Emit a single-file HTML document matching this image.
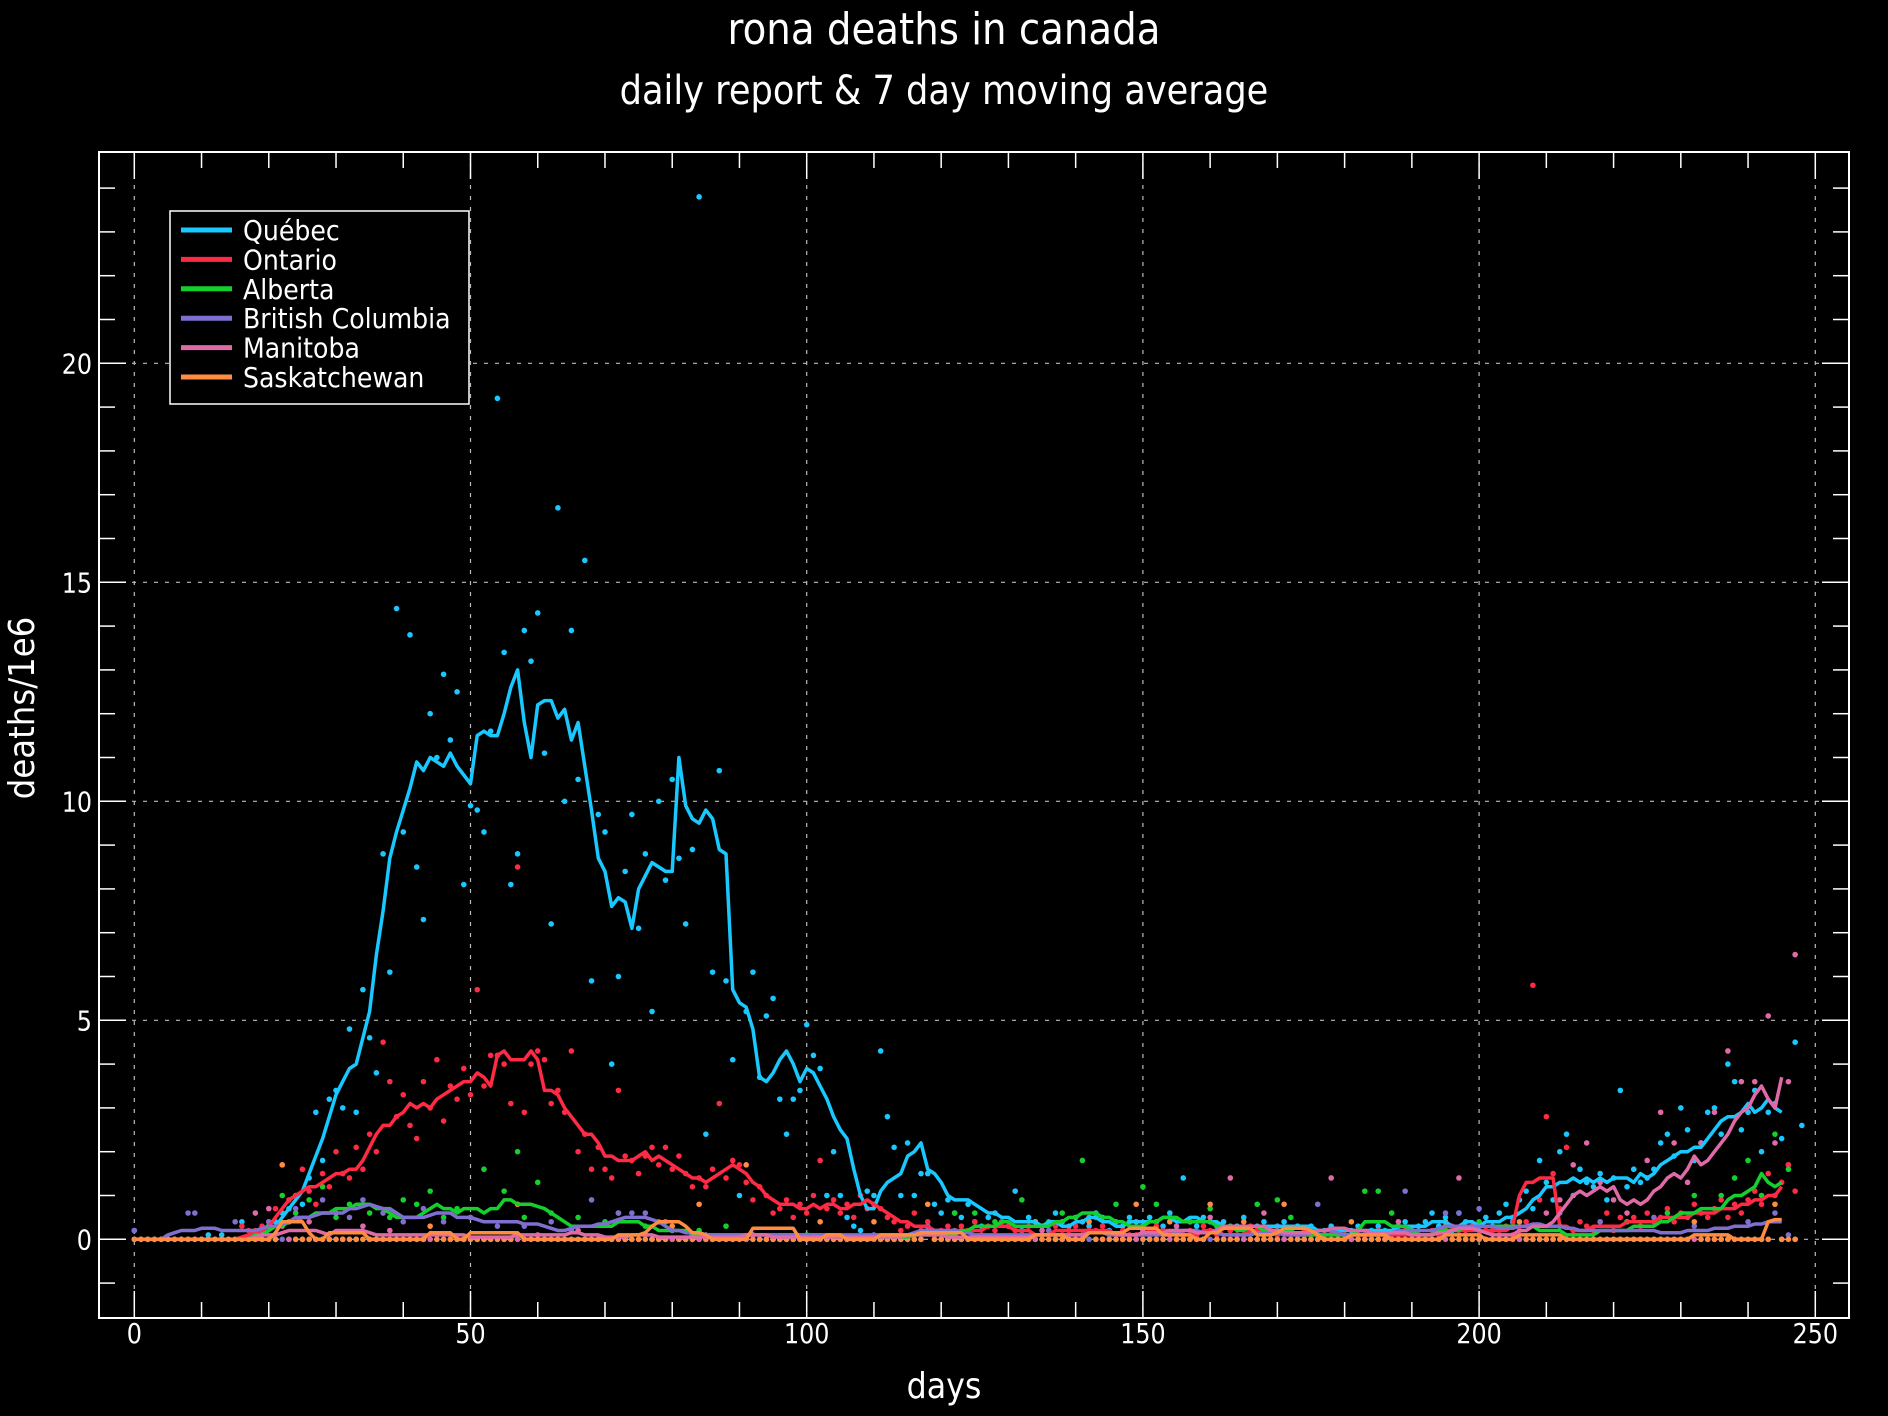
<!DOCTYPE html>
<html><head><meta charset="utf-8"><style>
html,body{margin:0;padding:0;background:#000;}
svg{display:block;font-family:"DejaVu Sans","Liberation Sans",sans-serif;}
</style></head><body>
<svg id="chart" width="1888" height="1416" viewBox="0 0 1888 1416" xmlns="http://www.w3.org/2000/svg">
<rect width="1888" height="1416" fill="#000"/>
<text class="cond" x="944" y="44" fill="#fff" font-size="44" text-anchor="middle">rona deaths in canada</text>
<text class="cond" x="944" y="104" fill="#fff" font-size="40" text-anchor="middle">daily report &amp; 7 day moving average</text>
<text transform="translate(34,708) rotate(-90) scale(0.9,1)" fill="#fff" font-size="36" text-anchor="middle">deaths/1e6</text>
<text class="cond" x="944" y="1398" fill="#fff" font-size="36" text-anchor="middle">days</text>
<g id="grid"></g>
<g id="marks"></g>
<g id="axes"></g>
<g id="legend"></g>
</svg>
<script>
const xTicks=[0,50,100,150,200,250];
const yTicks=[0,5,10,15,20];
const seriesNames=["Québec","Ontario","Alberta","British Columbia","Manitoba","Saskatchewan"];
const seriesColors=["#18c8ff","#ff2a44","#14d02c","#7f6fd0","#e06aa8","#ff8c40"];

const qcMA=[0,0,0,0,0,0,0,0,0,0,
0,0,0,0,0,0,0,0,0.05,0.1,
0.2,0.3,0.5,0.7,0.9,1.1,1.5,1.9,2.3,2.8,
3.3,3.6,3.9,4.0,4.6,5.2,6.5,7.5,8.7,9.3,
9.8,10.3,10.9,10.7,11.0,10.9,10.8,11.1,10.8,10.6,
10.4,11.5,11.6,11.5,11.5,12.0,12.6,13.0,11.8,11.0,
12.2,12.3,12.3,11.9,12.1,11.4,11.8,10.8,9.8,8.7,
8.4,7.6,7.8,7.7,7.1,8.0,8.3,8.6,8.5,8.4,
8.4,11.0,9.9,9.6,9.5,9.8,9.6,8.9,8.8,5.7,
5.4,5.3,4.8,3.7,3.6,3.8,4.1,4.3,4.0,3.6,3.9,
3.8,3.5,3.2,2.8,2.5,2.3,1.6,1.0,0.7,0.7,
1.1,1.3,1.4,1.5,1.9,2.0,2.2,1.6,1.5,1.3,
1.0,0.9,0.9,0.9,0.8,0.7,0.6,0.6,0.5,0.5,
0.4,0.4,0.4,0.4,0.3,0.4,0.4,0.3,0.3,0.4,
0.4,0.5,0.5,0.4,0.4,0.3,0.3,0.4,0.4,0.4,
0.4,0.4,0.5,0.5,0.4,0.4,0.5,0.5,0.4,0.4,
0.4,0.3,0.3,0.3,0.3,0.3,0.3,0.3,0.3,0.3,
0.3,0.3,0.3,0.3,0.3,0.2,0.2,0.2,0.2,0.2,
0.2,0.2,0.2,0.2,0.2,0.2,0.2,0.3,0.3,0.3,
0.3,0.3,0.4,0.4,0.4,0.3,0.3,0.4,0.4,0.3,
0.4,0.4,0.4,0.5,0.5,0.6,0.7,0.9,1.0,1.2,
1.2,1.3,1.3,1.4,1.3,1.4,1.3,1.4,1.3,1.4,
1.4,1.4,1.3,1.5,1.4,1.5,1.7,1.8,1.9,2.0,
2.0,2.1,2.1,2.3,2.5,2.7,2.8,2.8,2.9,3.1,
2.9,3.0,3.2,3.0,2.9];
const onMA=[0,0,0,0,0,0,0,0,0,0,
0,0,0,0,0,0,0.05,0.1,0.15,0.2,
0.3,0.5,0.7,0.9,1.0,1.1,1.2,1.2,1.3,1.4,
1.5,1.5,1.6,1.6,1.8,2.1,2.4,2.6,2.6,2.8,
2.9,3.1,3.0,3.1,3.0,3.2,3.3,3.4,3.5,3.6,
3.6,3.8,3.7,3.5,4.2,4.3,4.1,4.1,4.1,4.3,
4.1,3.4,3.4,3.3,3.0,2.8,2.6,2.4,2.4,2.2,
1.9,1.9,1.8,1.8,1.8,1.9,2.0,1.8,1.9,1.8,
1.7,1.6,1.5,1.4,1.4,1.3,1.4,1.5,1.6,1.7,
1.6,1.5,1.3,1.2,1.0,0.9,0.8,0.8,0.8,0.7,
0.7,0.8,0.7,0.8,0.8,0.7,0.7,0.8,0.8,0.9,
0.8,0.7,0.6,0.5,0.4,0.4,0.3,0.3,0.3,0.2,
0.2,0.2,0.2,0.2,0.2,0.2,0.2,0.3,0.3,0.3,
0.3,0.2,0.2,0.2,0.1,0.1,0.1,0.2,0.2,0.2,
0.2,0.2,0.2,0.2,0.2,0.2,0.1,0.1,0.1,0.1,
0.1,0.2,0.2,0.2,0.2,0.1,0.1,0.1,0.1,0.2,
0.2,0.2,0.1,0.1,0.1,0.1,0.2,0.2,0.2,0.2,
0.2,0.1,0.1,0.1,0.1,0.1,0.1,0.1,0.1,0.1,
0.1,0.1,0.1,0.1,0.1,0.1,0.1,0.1,0.1,0.1,
0.1,0.1,0.1,0.1,0.2,0.2,0.2,0.2,0.2,0.2,
0.2,0.2,0.2,0.2,0.2,0.3,1.0,1.3,1.3,1.4,
1.4,1.4,0.3,0.3,0.2,0.2,0.2,0.3,0.3,0.3,
0.3,0.3,0.4,0.4,0.4,0.4,0.4,0.5,0.5,0.5,
0.5,0.5,0.6,0.6,0.6,0.6,0.7,0.7,0.7,0.8,
0.8,0.9,0.9,1.0,1.0,1.2];
const abMA=[0,0,0,0,0,0,0,0,0,0,
0,0,0,0,0,0,0,0,0.1,0.1,
0.2,0.3,0.3,0.4,0.4,0.5,0.5,0.6,0.6,0.6,
0.7,0.7,0.7,0.8,0.8,0.8,0.7,0.7,0.6,0.5,
0.5,0.5,0.5,0.6,0.7,0.8,0.7,0.7,0.6,0.7,
0.7,0.7,0.6,0.7,0.7,0.9,0.9,0.8,0.8,0.8,
0.75,0.7,0.6,0.5,0.4,0.3,0.3,0.3,0.3,0.3,
0.3,0.3,0.4,0.4,0.4,0.4,0.3,0.3,0.2,0.2,
0.2,0.2,0.2,0.1,0.1,0.1,0.1,0.1,0.1,0.1,
0.1,0.1,0.1,0.1,0.1,0.1,0.1,0.1,0.1,0.1,
0.1,0.1,0.1,0.1,0.1,0.05,0.05,0.05,0.05,0.05,
0.05,0.05,0.05,0.05,0.05,0.05,0.1,0.1,0.1,0.1,
0.1,0.1,0.1,0.2,0.2,0.3,0.3,0.3,0.3,0.4,
0.4,0.3,0.3,0.3,0.3,0.3,0.3,0.4,0.4,0.5,
0.5,0.6,0.6,0.6,0.5,0.5,0.4,0.4,0.3,0.3,
0.3,0.4,0.4,0.5,0.5,0.5,0.4,0.4,0.4,0.4,
0.4,0.3,0.3,0.3,0.2,0.2,0.3,0.3,0.2,0.2,
0.2,0.2,0.2,0.1,0.1,0.1,0.1,0.1,0.1,0.1,
0.1,0.1,0.2,0.4,0.4,0.4,0.4,0.3,0.3,0.3,
0.2,0.1,0.1,0.1,0.2,0.2,0.2,0.2,0.3,0.3,
0.3,0.3,0.3,0.3,0.3,0.3,0.3,0.3,0.3,0.2,
0.2,0.2,0.2,0.1,0.1,0.1,0.1,0.1,0.2,0.2,
0.2,0.2,0.2,0.3,0.3,0.3,0.3,0.4,0.4,0.5,
0.6,0.6,0.6,0.7,0.7,0.7,0.7,0.9,1.0,1.0,
1.1,1.2,1.5,1.3,1.2,1.3];
const bcMA=[0,0,0,0,0,0.1,0.15,0.2,0.2,0.2,
0.25,0.25,0.25,0.2,0.2,0.2,0.2,0.2,0.2,0.25,
0.3,0.3,0.35,0.4,0.5,0.5,0.5,0.55,0.6,0.6,
0.6,0.6,0.7,0.7,0.75,0.8,0.75,0.7,0.7,0.6,
0.5,0.5,0.5,0.5,0.55,0.6,0.6,0.6,0.5,0.5,
0.5,0.45,0.4,0.4,0.4,0.4,0.4,0.4,0.35,0.35,
0.35,0.3,0.25,0.2,0.2,0.25,0.3,0.3,0.3,0.35,
0.35,0.4,0.45,0.5,0.5,0.5,0.5,0.45,0.4,0.3,
0.2,0.2,0.15,0.15,0.15,0.1,0.1,0.1,0.1,0.1,
0.1,0.1,0.1,0.1,0.1,0.1,0.1,0.1,0.1,0.1,
0.1,0.1,0.1,0.1,0.1,0.1,0.1,0.1,0.1,0.1,
0.1,0.1,0.1,0.1,0.1,0.1,0.15,0.2,0.2,0.2,
0.2,0.2,0.2,0.15,0.15,0.1,0.1,0.1,0.1,0.1,
0.1,0.1,0.1,0.1,0.1,0.1,0.1,0.1,0.1,0.1,
0.1,0.1,0.15,0.15,0.15,0.1,0.1,0.1,0.1,0.1,
0.1,0.1,0.1,0.1,0.1,0.15,0.2,0.2,0.2,0.15,
0.15,0.15,0.1,0.1,0.1,0.1,0.1,0.15,0.15,0.15,
0.15,0.1,0.1,0.1,0.1,0.15,0.2,0.2,0.2,0.15,
0.1,0.1,0.1,0.1,0.1,0.1,0.1,0.15,0.2,0.2,
0.2,0.2,0.2,0.2,0.25,0.3,0.3,0.3,0.3,0.3,
0.3,0.3,0.3,0.25,0.25,0.25,0.3,0.3,0.35,0.35,
0.3,0.3,0.3,0.25,0.25,0.2,0.2,0.2,0.2,0.2,
0.2,0.2,0.2,0.2,0.2,0.2,0.2,0.15,0.15,0.15,
0.15,0.2,0.2,0.2,0.2,0.25,0.25,0.25,0.3,0.3,
0.3,0.35,0.35,0.4,0.4,0.4];
const mbMA=[0,0,0,0,0,0,0,0,0,0,
0,0,0,0,0,0,0,0,0.05,0.1,
0.1,0.1,0.15,0.2,0.2,0.2,0.2,0.2,0.15,0.1,
0.2,0.2,0.2,0.2,0.2,0.15,0.1,0.1,0.1,0.1,
0.1,0.1,0.1,0.1,0.1,0.1,0.1,0.1,0.1,0.1,
0.05,0.05,0.05,0.05,0.05,0.05,0.05,0.1,0.1,0.1,
0.1,0.1,0.1,0.1,0.1,0.15,0.15,0.1,0.1,0.1,
0.05,0.05,0.05,0.05,0.1,0.1,0.1,0.1,0.05,0.05,
0.05,0.05,0.05,0.05,0.05,0.05,0.05,0.05,0.05,0.05,
0.05,0.1,0.1,0.1,0.1,0.05,0.05,0.05,0.05,0.05,
0.05,0.05,0.05,0.05,0.05,0.05,0.05,0.05,0.05,0.05,
0.05,0.05,0.05,0.05,0.05,0.1,0.1,0.1,0.1,0.1,
0.1,0.05,0.05,0.05,0.05,0.05,0.05,0.05,0.05,0.05,
0.05,0.05,0.05,0.05,0.1,0.1,0.1,0.1,0.1,0.1,
0.1,0.1,0.15,0.15,0.15,0.15,0.1,0.1,0.1,0.1,
0.15,0.15,0.15,0.15,0.2,0.2,0.2,0.2,0.15,0.15,
0.15,0.2,0.3,0.3,0.3,0.3,0.3,0.3,0.3,0.2,
0.2,0.15,0.15,0.15,0.15,0.15,0.2,0.2,0.25,0.25,
0.25,0.2,0.2,0.2,0.15,0.15,0.15,0.15,0.15,0.15,
0.1,0.1,0.1,0.1,0.15,0.15,0.2,0.25,0.25,0.25,
0.2,0.15,0.1,0.1,0.1,0.1,0.2,0.2,0.3,0.3,
0.3,0.4,0.6,0.8,1.0,1.1,1.0,1.1,1.2,1.1,
1.2,0.9,0.8,0.9,0.8,0.9,1.1,1.2,1.4,1.5,
1.4,1.6,1.9,1.7,1.8,2.0,2.2,2.4,2.7,2.9,
3.0,3.3,3.5,3.2,3.0,3.7];
const skMA=[0,0,0,0,0,0,0,0,0,0,
0,0,0,0,0,0,0,0,0,0,
0,0.15,0.4,0.4,0.4,0.4,0.15,0,0,0.15,
0.15,0.15,0.15,0.15,0.15,0,0,0,0,0,
0,0,0,0,0.15,0.15,0.15,0.15,0,0,
0.15,0.15,0.15,0.15,0.15,0.15,0.15,0.15,0,0,
0,0,0,0,0,0,0,0,0,0,
0,0,0.1,0.1,0.1,0.1,0.15,0.3,0.4,0.4,
0.4,0.4,0.3,0.15,0.15,0.1,0,0,0,0,
0,0,0.25,0.25,0.25,0.25,0.25,0.25,0.25,0,
0,0,0,0.1,0.1,0.1,0,0,0,0,
0,0.1,0.1,0.1,0.1,0.1,0.1,0.15,0.15,0.15,
0.15,0.15,0.15,0.15,0,0,0,0,0,0,
0,0,0,0,0.1,0.1,0.1,0.1,0.1,0,
0,0,0.15,0.15,0.15,0.15,0.15,0.15,0.25,0.25,
0.25,0.25,0.25,0.1,0.1,0.1,0.1,0.1,0,0,
0.15,0.15,0.25,0.25,0.25,0.25,0.25,0.1,0.1,0.1,
0.15,0.25,0.25,0.25,0.25,0.2,0.1,0,0,0,
0,0.1,0.1,0.1,0.1,0.1,0.1,0,0,0,
0,0,0,0,0,0.1,0.1,0.1,0.1,0.1,
0.1,0,0,0,0,0,0.1,0.1,0.1,0.1,
0.1,0.1,0.1,0,0,0,0,0,0,0,
0,0,0,0,0,0,0,0,0,0,
0,0,0.1,0.1,0.1,0.1,0.1,0.1,0,0,
0,0,0,0.4,0.45,0.45];

const qcDaily=[0.2,0,0,0,0,0,0,0,0,0,0,
0.1,0,0.1,0,0,0.4,0,0,0.2,
0.3,0.4,0.6,0.7,1.0,0.8,1.4,2.9,1.8,3.2,3.4,
3.0,4.8,2.9,5.7,4.6,3.8,8.8,6.1,14.4,9.3,
13.8,8.5,7.3,12.0,11.0,12.9,11.4,12.5,8.1,9.9,
9.8,9.3,11.6,19.2,13.4,8.1,8.8,13.9,13.2,14.3,
11.1,7.2,16.7,10.0,13.9,10.5,15.5,5.9,9.7,9.3,
4.0,6.0,8.4,9.7,7.1,8.8,5.2,10.0,8.2,10.5,
8.7,7.2,8.9,23.8,2.4,6.1,10.7,5.9,4.1,1.0,
5.2,6.1,3.7,5.1,5.5,3.2,2.4,3.2,3.4,4.9,
4.2,3.9,1.0,2.0,1.0,0.5,0.3,0.2,1.1,1.0,
4.3,2.8,2.1,1.0,2.2,1.0,1.5,1.5,0.8,0.6,
0.9,0.6,0.5,0.8,0.4,0.3,0.5,0.6,0.4,0.3,
1.1,0.2,0.5,0.4,0.3,0.2,0.6,0.4,0.3,0.5,
0.4,0.3,0.6,0.5,0.2,0.4,0.3,0.5,0.4,0.3,
0.5,0.4,0.3,0.6,0.2,1.4,0.4,0.3,0.5,0.4,
0.3,0.4,0.2,0.3,0.5,0.2,0.3,0.4,0.2,0.3,
0.4,0.2,0.3,0.2,0.3,0.1,0.2,0.3,0.2,0.1,
0.2,0.3,0.1,0.2,0.3,0.2,0.1,0.3,0.4,0.2,
0.3,0.4,0.6,0.3,0.5,0.2,0.6,0.4,0.3,0.2,
0.5,0.3,0.6,0.8,0.4,0.9,1.1,0.7,1.8,1.3,
0.9,2.0,2.4,1.0,1.6,1.3,1.2,1.5,0.9,1.4,
3.4,1.2,1.6,1.3,1.4,1.6,2.2,2.4,1.9,3.0,
2.5,1.8,2.2,2.9,3.0,2.4,4.0,3.6,2.5,2.9,
3.4,2.0,2.9,3.1,2.3,1.7,4.5,2.6];
const onDaily=[0,0,0,0,0,0,0,0,0,0,
0,0,0,0,0,0,0.3,0.2,0.2,0.3,
0.4,0.7,1.7,0.9,1.0,1.6,1.1,0.8,1.5,1.2,
2.0,1.5,1.4,2.1,1.6,2.4,2.0,4.5,3.6,2.8,
3.3,2.6,2.3,3.6,3.0,4.1,2.7,3.5,3.2,3.9,
3.3,5.7,3.5,4.2,4.2,4.0,3.1,8.5,2.9,4.0,
4.3,4.1,3.1,3.4,2.9,4.3,2.0,2.4,1.6,2.1,
1.6,1.4,3.4,1.9,1.8,1.5,1.9,2.1,1.7,2.1,
1.6,1.9,1.5,1.2,1.4,1.2,1.6,3.1,1.4,1.8,
1.7,1.3,0.9,1.2,1.0,0.6,0.7,0.9,0.5,0.8,
0.6,1.0,1.8,0.7,0.9,0.6,0.8,0.5,1.0,0.7,
0.8,0.7,0.5,0.4,0.2,0.3,0.6,0.2,0.4,0.1,
0.2,0.3,0.1,0.3,0.2,0.4,0.1,0.3,0.2,0.4,
0.3,0.2,0.1,0.3,0,0.1,0.2,0.3,0.1,0.2,
0.3,0.1,0.2,0.2,0.3,0.1,0,0.2,0.1,0.1,
0.2,0.1,0.3,0.2,0.1,0,0.1,0.2,0.1,0.3,
0.2,0.1,0,0.2,0.1,0.1,0.3,0.2,0.1,0.2,
0.1,0.2,0,0.1,0.2,0.1,0,0.1,0.2,0.1,
0.1,0,0.2,0.1,0.1,0.2,0,0.1,0.1,0.2,
0.1,0.1,0,0.2,0.1,0.2,0.3,0.1,0.2,0.3,
0.1,0.2,0.2,0.1,0.3,0.1,0.2,0.4,5.8,0.9,2.8,1.5,
0.7,2.1,0.2,0.4,0.3,0.2,0.4,0.6,0.2,0.5,
0.4,0.5,0.3,0.6,0.4,0.5,0.7,0.4,0.6,0.5,
0.8,0.6,0.5,0.7,0.9,0.5,0.8,0.6,0.9,1.1,
0.8,1.5,1.0,1.3,1.7,1.1];
const abDailyNonzero=[[20,0.3],[22,1.0],[24,0.6],[26,0.9],[28,1.2],[30,0.5],[32,0.8],[35,0.6],[38,0.5],[40,0.9],[42,0.8],[44,1.1],[46,0.5],[48,0.7],[52,1.6],[55,1.1],[57,2.0],[58,0.5],[60,1.3],[62,0.6],[66,0.5],[70,0.4],[72,0.6],[76,0.3],[79,0.4],[84,0.2],[88,0.3],[92,0.1],[100,0.1],[118,0.2],[122,0.6],[125,0.6],[128,0.4],[132,0.9],[136,0.4],[138,0.6],[141,1.8],[143,0.5],[146,0.8],[148,0.4],[150,1.2],[152,0.8],[154,0.5],[157,0.4],[160,0.7],[163,0.3],[167,0.8],[170,0.9],[172,0.5],[183,1.1],[185,1.1],[187,0.6],[195,0.3],[200,0.4],[205,0.4],[212,0.3],[222,0.4],[228,0.6],[232,1.0],[236,1.0],[238,1.4],[240,1.8],[242,1.0],[244,2.4],[246,1.6]];
const bcDailyNonzero=[[0,0.2],[8,0.6],[9,0.6],[15,0.4],[20,0.4],[24,0.7],[28,0.9],[32,0.5],[34,0.9],[37,0.6],[40,0.4],[43,0.7],[46,0.4],[50,0.5],[54,0.3],[58,0.3],[62,0.4],[65,0.2],[68,0.9],[72,0.6],[74,0.6],[76,0.6],[78,0.4],[80,0.2],[85,0.1],[110,0.1],[118,0.3],[122,0.2],[136,0.2],[153,0.2],[170,0.3],[176,0.8],[189,1.1],[195,0.6],[197,0.6],[200,0.7],[205,0.4],[212,0.6],[218,0.4],[226,0.5],[232,0.3],[240,0.4],[244,0.6],[246,0.1]];
const mbDailyNonzero=[[18,0.6],[20,0.7],[22,0.3],[26,0.4],[30,0.6],[34,0.3],[38,0.2],[45,0.1],[60,0.1],[66,0.2],[76,0.1],[92,0.1],[118,0.2],[135,0.2],[142,0.5],[150,0.2],[155,0.3],[160,0.5],[163,1.4],[168,0.6],[178,1.4],[188,0.4],[197,1.4],[205,0.5],[210,0.6],[212,0.9],[214,1.7],[216,2.2],[218,1.3],[220,0.9],[222,0.6],[225,1.8],[227,2.9],[229,2.2],[231,1.3],[233,2.2],[235,2.9],[237,4.3],[239,3.6],[241,3.6],[243,5.1],[244,2.2],[246,3.6],[247,6.5]];
const skDailyNonzero=[[22,1.7],[23,0.4],[44,0.3],[57,0.8],[80,0.3],[84,0.8],[91,1.7],[102,0.4],[110,0.4],[118,0.8],[134,0.4],[142,0.4],[149,0.8],[154,0.4],[160,0.8],[165,0.4],[171,0.8],[181,0.4],[195,0.4],[206,0.4],[232,0.4],[244,0.8]];
const lastDay=247;

const NS="http://www.w3.org/2000/svg";
const PL=99,PR=1849,PT=152,PB=1318;
function xs(d){return 134.3+d*6.724;}
function ys(v){return 1239.3-v*43.8;}
function mk(tag,attrs,parent){const e=document.createElementNS(NS,tag);for(const k in attrs)e.setAttribute(k,attrs[k]);parent.appendChild(e);return e;}
function condense(t,f){try{const w=t.getComputedTextLength();t.setAttribute('textLength',(w*f).toFixed(1));t.setAttribute('lengthAdjust','spacingAndGlyphs');}catch(e){}}
const grid=document.getElementById('grid'),marks=document.getElementById('marks'),axes=document.getElementById('axes'),legend=document.getElementById('legend');

xTicks.forEach(t=>{const l=mk('line',{x1:xs(t),x2:xs(t),y1:PT,y2:PB,stroke:'#bbb','stroke-width':1.2,'stroke-dasharray':'4,7'},grid);

});
yTicks.forEach(t=>{const l=mk('line',{x1:PL,x2:PR,y1:ys(t),y2:ys(t),stroke:'#bbb','stroke-width':1.2,'stroke-dasharray':'4,7'},grid);

});

function expand(pairs){const a=[];for(let d=0;d<=lastDay;d++)a.push(0);pairs.forEach(p=>{a[p[0]]=p[1];});return a;}
function pad(arr){const a=arr.slice();while(a.length<=lastDay)a.push(0);return a;}
const dailies=[pad(qcDaily),pad(onDaily),expand(abDailyNonzero),expand(bcDailyNonzero),expand(mbDailyNonzero),expand(skDailyNonzero)];
const mas=[qcMA,onMA,abMA,bcMA,mbMA,skMA];

dailies.forEach((arr,i)=>{arr.forEach((v,d)=>{const c=mk('circle',{cx:xs(d),cy:ys(v),r:2.8,fill:seriesColors[i]},marks);

});});
mas.forEach((arr,i)=>{const pts=arr.map((v,d)=>xs(d).toFixed(1)+','+ys(v).toFixed(1)).join(' ');
const p=mk('polyline',{points:pts,fill:'none',stroke:seriesColors[i],'stroke-width':3.5,'stroke-linejoin':'round'},marks);

});

const fr=mk('rect',{x:PL,y:PT,width:PR-PL,height:PB-PT,fill:'none',stroke:'#fff','stroke-width':2},axes);


for(let t=0;t<=250;t+=10){const maj=t%50===0,L=maj?27:16;
mk('line',{x1:xs(t),x2:xs(t),y1:PB,y2:PB-L,stroke:'#fff','stroke-width':1.5},axes);
mk('line',{x1:xs(t),x2:xs(t),y1:PT,y2:PT+L,stroke:'#fff','stroke-width':1.5},axes);}
for(let v=-1;v<=24;v++){const maj=v%5===0,L=maj?27:16;
mk('line',{x1:PL,x2:PL+L,y1:ys(v),y2:ys(v),stroke:'#fff','stroke-width':1.5},axes);
mk('line',{x1:PR,x2:PR-L,y1:ys(v),y2:ys(v),stroke:'#fff','stroke-width':1.5},axes);}
xTicks.forEach(t=>{const tx=mk('text',{x:xs(t),y:1343,fill:'#fff','font-size':28,'text-anchor':'middle'},axes);tx.textContent=t;


condense(tx,0.85);});
yTicks.forEach(t=>{const tx=mk('text',{x:92,y:ys(t)+10,fill:'#fff','font-size':28,'text-anchor':'end'},axes);tx.textContent=t;


condense(tx,0.85);});

const lb=mk('rect',{x:170,y:211,width:299,height:193,fill:'#000',stroke:'#fff','stroke-width':1.5},legend);


seriesNames.forEach((n,i)=>{const y=230+i*29.4;
const g=mk('g',{},legend);


mk('line',{x1:181,x2:232,y1:y,y2:y,stroke:seriesColors[i],'stroke-width':5},g);
const tx=mk('text',{x:243,y:y+10,fill:'#fff','font-size':28},g);tx.textContent=n;
condense(tx,0.9);});
document.querySelectorAll('text.cond').forEach(t=>condense(t,0.88));
</script>
</body></html>
